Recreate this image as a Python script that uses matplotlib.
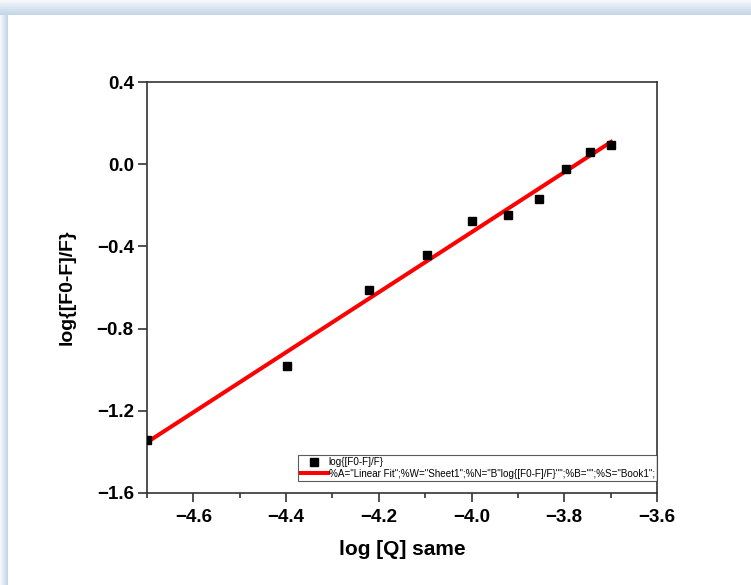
import numpy as np
import matplotlib
matplotlib.use("Agg")
import matplotlib.pyplot as plt
from matplotlib.patches import Rectangle
from matplotlib.ticker import MultipleLocator

log_q = [-4.699, -4.398, -4.222, -4.097, -4.000, -3.921, -3.854, -3.796, -3.745, -3.699]
log_f = [-1.342, -0.982, -0.612, -0.442, -0.276, -0.247, -0.169, -0.023, 0.059, 0.093]

x_ticks = [-4.6, -4.4, -4.2, -4.0, -3.8, -3.6]
y_ticks = [0.4, 0.0, -0.4, -0.8, -1.2, -1.6]

plt.rcParams['font.family'] = ['Liberation Sans', 'DejaVu Sans']

fig = plt.figure(figsize=(7.51, 5.85), dpi=100)

# shadow frame (top and left)
c0 = np.array([0.96, 0.97, 0.985])
c1 = np.array([0.77, 0.84, 0.91])
n = 8
for i in range(n):
    t = i / (n - 1)
    col = c0 * (1 - t) + c1 * t
    fig.patches.append(Rectangle((0, 1 - (i + 1) * 15 / 585 / n), 1, 15 / 585 / n + 0.0005,
                                 transform=fig.transFigure, color=col, lw=0, zorder=0))
for i in range(n):
    t = i / (n - 1)
    col = c0 * (1 - t) + c1 * t
    fig.patches.append(Rectangle((i * 8 / 751 / n, 0), 8 / 751 / n + 0.0005, 1 - 15 / 585,
                                 transform=fig.transFigure, color=col, lw=0, zorder=0))

ax = fig.add_axes([0.1957, 0.1573, 0.6791, 0.7025])
ax.plot(log_q, log_f, 's', color='black', markersize=6, label='log{[F0-F]/F}', zorder=3)
slope, intercept = np.polyfit(log_q, log_f, 1)
xf = np.array([min(log_q), max(log_q)])
ax.plot(xf, slope * xf + intercept, '-', color='#ff0000', lw=2.9,
        label='%A="Linear Fit";%W="Sheet1";%N="B"log{[F0-F]/F}"";%B="";%S="Book1";', zorder=2)

ax.set_xlim(-4.7, -3.6)
ax.set_ylim(-1.6, 0.4)
ax.set_xticks(x_ticks)
ax.set_yticks(y_ticks)
ax.xaxis.set_minor_locator(MultipleLocator(0.1))
ax.set_xticklabels([f"\u2212{abs(v):.1f}" for v in x_ticks], fontweight='bold', fontsize=13.5)
ax.set_yticklabels([(f"\u2212{abs(v):.1f}" if v < 0 else f"{v:.1f}") for v in y_ticks],
                   fontweight='bold', fontsize=13.5)
ax.tick_params(axis='both', which='major', direction='out', length=6.5, width=1.2, color='#333333')
ax.tick_params(axis='x', which='major', pad=5)
ax.tick_params(axis='y', which='major', pad=3)
ax.tick_params(axis='x', which='minor', direction='out', length=3.5, width=1.2, color='#333333')
for s in ax.spines.values():
    s.set_linewidth(1.2)
    s.set_color('#333333')

ax.set_xlabel('log [Q] same', fontweight='bold', fontsize=15, labelpad=10)
ax.set_ylabel('log{[F0-F]/F}', fontweight='bold', fontsize=14, labelpad=15)

leg = ax.legend(loc='lower right', bbox_to_anchor=(1.0, 0.029), fontsize=7.1, frameon=True,
                fancybox=False, edgecolor='#333333', handlelength=2.7, borderpad=0.25,
                labelspacing=0.15, handletextpad=0.1, borderaxespad=0)
leg.get_frame().set_linewidth(0.8)

fig.savefig('out.png', dpi=100)
